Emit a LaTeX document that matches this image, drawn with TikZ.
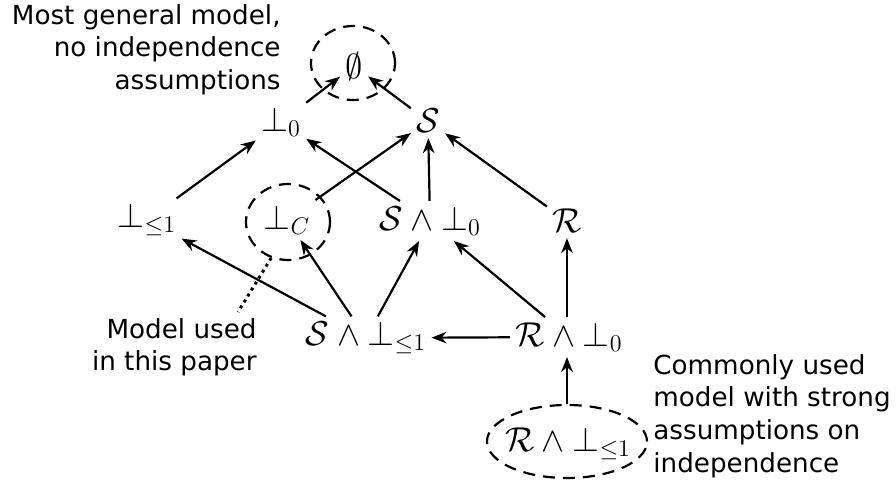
\documentclass[tikz,border=0pt]{standalone}
\usepackage{fontspec}
\setsansfont{DejaVu Sans}
\usetikzlibrary{arrows.meta,shapes.geometric}
\begin{document}
\begin{tikzpicture}[x=0.5pt,y=-0.5pt,
  m/.style={font=\fontsize{17.5}{21}\selectfont, inner sep=2.5pt},
  lbl/.style={font=\sffamily\fontsize{13.1}{16.3}\selectfont, inner sep=0pt},
  arr/.style={-{Stealth[length=7.5pt,width=5.8pt]}, line width=1.1pt},
  dsh/.style={draw, dash pattern=on 6pt off 4pt, line width=1.1pt, ellipse, inner sep=0pt}]
\useasboundingbox (0,0) rectangle (896,487);
% ellipses
\node[dsh, minimum width=42pt, minimum height=37pt] (eE) at (353,63) {};
\node[dsh, minimum width=42pt, minimum height=38pt] (eC) at (288,222) {};
\node[dsh, minimum width=80pt, minimum height=36.5pt] (eR) at (567,441.5) {};
% nodes
\node[m] (emp) at (354,66) {$\emptyset$};
\node[m] (b0) at (281,122) {$\bot_0$};
\node[m] (S) at (428,121) {$\mathcal{S}$};
\node[m] (ble) at (147,220) {$\bot_{\leq 1}$};
\node[m] (bC) at (287,220) {$\bot_C$};
\node[m] (Sb0) at (430,221) {$\mathcal{S}\wedge\bot_0$};
\node[m] (R) at (567,221) {$\mathcal{R}$};
\node[m] (Sble) at (366,338) {$\mathcal{S}\wedge\bot_{\leq 1}$};
\node[m] (Rb0) at (569,337) {$\mathcal{R}\wedge\bot_0$};
\node[m] (Rble) at (568,444) {$\mathcal{R}\wedge\bot_{\leq 1}$};
% labels
\node[lbl, align=right, anchor=north east] (lmost) at (281,4) {Most general model,\\no independence\\assumptions};
\node[lbl, align=right, anchor=north east] (lused) at (257,318) {Model used\\in this paper};
\node[lbl, align=left, anchor=north west] (lcomm) at (653,354) {Commonly used\\model with strong\\assumptions on\\independence};
\coordinate (dotend) at (238,312);
% edges
\draw[arr] (b0) -- (emp);
\draw[arr] (S) -- (emp);
\draw[arr] (ble) -- (b0);
\draw[arr] (Sb0) -- (b0);
\draw[arr] (bC) -- (S);
\draw[arr] (Sb0) -- (S);
\draw[arr] (R) -- (S);
\draw[arr] (Sble) -- (ble);
\draw[arr] (Sble) -- (bC);
\draw[arr] (Sble) -- (Sb0);
\draw[arr] (Rb0) -- (Sble);
\draw[arr] (Rb0) -- (Sb0);
\draw[arr] (R |- Rb0.north) -- (R);
\draw[arr] (eR.north) -- (eR.north |- Rb0.south);
\draw[line width=1.5pt, dotted] (eC.245) -- (dotend);
\end{tikzpicture}
\end{document}
